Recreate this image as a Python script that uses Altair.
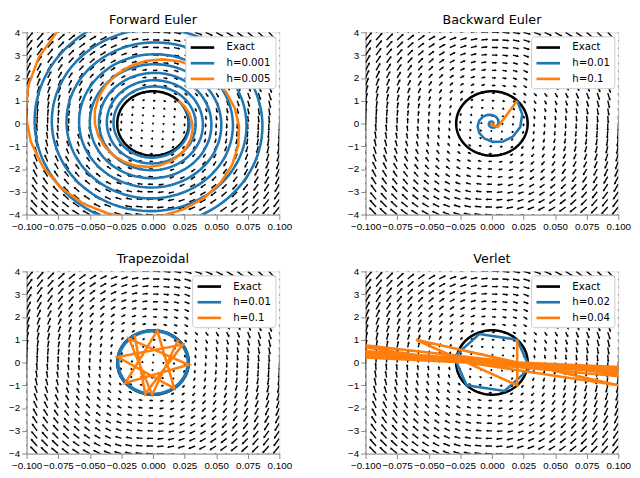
import altair as alt
import numpy as np
import pandas as pd

# ---- problem parameters ----
OMEGA = 50.0            # angular frequency of the oscillator
X0, V0 = 0.02, 1.0      # initial state (position, velocity)
T_END = 1.0             # integration time
PANELS = ["Forward Euler", "Backward Euler", "Trapezoidal", "Verlet"]
METHODS = ["forward", "backward", "trapezoid", "verlet"]
STEPS = [[0.001, 0.005], [0.01, 0.1], [0.01, 0.1], [0.02, 0.04]]
X_TICKS = [-0.100, -0.075, -0.050, -0.025, 0.000, 0.025, 0.050, 0.075, 0.100]
V_TICKS = [-4, -3, -2, -1, 0, 1, 2, 3, 4]
GRID_X = np.linspace(-0.1, 0.1, 25)
GRID_V = np.linspace(-4.0, 4.0, 25)
COLORS = ["black", "#1f77b4", "#ff7f0e"]

W, H = 258, 186
ARROW = 0.0012

w2 = OMEGA ** 2
A = np.array([[0.0, 1.0], [-w2, 0.0]])
I2 = np.eye(2)


def step_matrix(method, h):
    if method == "forward":
        return I2 + h * A
    if method == "backward":
        return np.linalg.inv(I2 - h * A)
    if method == "trapezoid":
        return np.linalg.inv(I2 - 0.5 * h * A) @ (I2 + 0.5 * h * A)
    # velocity Verlet
    return np.array([
        [1 - 0.5 * h * h * w2, h],
        [-0.5 * h * w2 * (2 - 0.5 * h * h * w2), 1 - 0.5 * h * h * w2],
    ])


def integrate(method, h):
    M = step_matrix(method, h)
    n = int(round(T_END / h))
    y = np.array([X0, V0])
    pts = [y.copy()]
    for _ in range(n):
        y = M @ y
        pts.append(y.copy())
        if abs(y[0]) > 0.4 or abs(y[1]) > 16:
            break
    pts = np.array(pts)
    return pd.DataFrame({"x": pts[:, 0], "v": pts[:, 1], "i": np.arange(len(pts))})


def exact():
    t = np.linspace(0, 2 * np.pi / OMEGA, 241)
    x = X0 * np.cos(OMEGA * t) + V0 / OMEGA * np.sin(OMEGA * t)
    v = -X0 * OMEGA * np.sin(OMEGA * t) + V0 * np.cos(OMEGA * t)
    return pd.DataFrame({"x": x, "v": v, "i": np.arange(len(t))})


gx, gv = np.meshgrid(GRID_X, GRID_V)
gx, gv = gx.ravel(), gv.ravel()
du, dw = ARROW * gv, ARROW * (-w2 * gx)
sx, sy = du * W / 0.2, -dw * H / 8.0
ang = (np.degrees(np.arctan2(sx, -sy)) + 360.0) % 360.0
quiver_df = pd.DataFrame({
    "x": gx, "v": gv,
    "x2": gx + du,
    "v2": gv + dw,
    "ang": ang,
})

XSCALE = alt.Scale(domain=[-0.1, 0.1], nice=False, zero=False)
YSCALE = alt.Scale(domain=[-4, 4], nice=False, zero=False)
XAXIS = alt.Axis(values=X_TICKS, format=".3f", title=None, grid=False,
                 labelFlush=False, labelOverlap=False)
YAXIS = alt.Axis(values=V_TICKS, format="d", title=None, grid=False,
                 labelOverlap=False)
xenc = alt.X("x:Q", scale=XSCALE, axis=XAXIS)
yenc = alt.Y("v:Q", scale=YSCALE, axis=YAXIS)


def panel(k):
    labels = ["Exact"] + [f"h={h}" for h in STEPS[k]]
    color = alt.Color(
        "series:N",
        scale=alt.Scale(domain=labels, range=COLORS),
        legend=alt.Legend(
            title=None, orient="top-right", offset=4, fillColor="white",
            strokeColor="#cccccc", cornerRadius=3, padding=4,
            symbolType="M-2,0H2", symbolSize=144, symbolStrokeWidth=2.7,
            symbolOffset=6,
            labelFontSize=10.4, labelFont="DejaVu Sans", labelColor="black",
            rowPadding=3, labelOffset=17,
        ),
    )
    shafts = alt.Chart(quiver_df).mark_rule(color="black", strokeWidth=1.4, clip=True).encode(
        x=xenc, y=yenc, x2="x2:Q", y2="v2:Q")
    heads = alt.Chart(quiver_df).mark_point(
        shape="triangle", filled=True, color="black", size=7, opacity=1, clip=True
    ).encode(x=alt.X("x2:Q", scale=XSCALE, axis=XAXIS),
             y=alt.Y("v2:Q", scale=YSCALE, axis=YAXIS),
             angle=alt.Angle("ang:Q", scale=None))
    layers = [shafts, heads]
    dfs = [exact()] + [integrate(METHODS[k], h) for h in STEPS[k]]
    for lab, df in zip(labels, dfs):
        df = df.assign(series=lab)
        layers.append(
            alt.Chart(df).mark_line(clip=True, strokeWidth=2.6).encode(
                x=xenc, y=yenc, order="i:Q", color=color)
        )
    return alt.layer(*layers).properties(
        width=W, height=H,
        title=alt.Title(PANELS[k], fontSize=13, font="DejaVu Sans",
                        fontWeight="normal", color="black", offset=1),
    )


row1 = alt.hconcat(panel(0), panel(1), spacing=55).resolve_scale(color="independent")
row2 = alt.hconcat(panel(2), panel(3), spacing=55).resolve_scale(color="independent")
chart = alt.vconcat(row1, row2, spacing=20).resolve_scale(color="independent").configure_view(
    stroke="black", strokeWidth=1
).configure_axis(
    domainColor="black", tickColor="black", tickSize=3.5, labelFontSize=7.8,
    labelFont="DejaVu Sans", labelColor="black", labelPadding=2,
).configure(padding=0)

chart.save("out.html", embed_options={"renderer": "svg", "actions": False})
